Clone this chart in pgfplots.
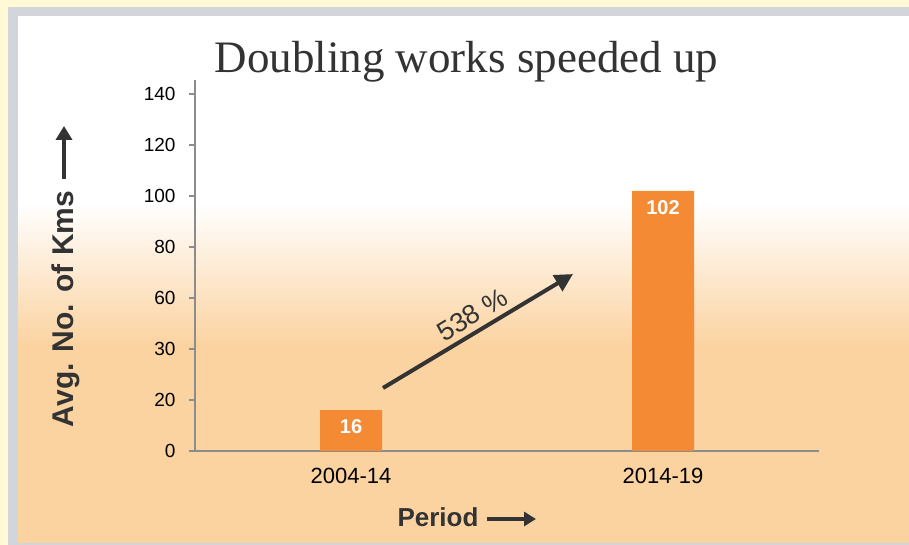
\documentclass[border=0pt]{standalone}
\usepackage{pgfplots}
\pgfplotsset{compat=1.18}
\usepackage{fontspec}
\setmainfont{Liberation Sans}
\newfontfamily\titlefont{Liberation Serif}
\usetikzlibrary{arrows.meta}
\definecolor{outer}{RGB}{255,249,216}
\definecolor{frame}{RGB}{210,214,218}
\definecolor{bgorange}{RGB}{251,211,161}
\definecolor{barorange}{RGB}{245,138,53}
\definecolor{axgray}{RGB}{140,140,140}
\definecolor{txt}{RGB}{51,51,51}
\begin{document}
\begin{tikzpicture}[x=1pt,y=1pt]
\useasboundingbox (0,0) rectangle (909,545);
\fill[outer] (0,0) rectangle (909,545);
\fill[frame] (8,0) rectangle (909,538);
\fill[white] (18,2) rectangle (909,529);
\fill[bgorange] (18,2) rectangle (909,202);
\shade[top color=white, bottom color=bgorange] (18,200) rectangle (909,342);
\begin{axis}[
  at={(195pt,94pt)}, anchor=south west,
  scale only axis, width=624pt, height=371pt,
  xmin=-0.5, xmax=1.5, ymin=0, ymax=145.5,
  axis x line=bottom, axis y line=left,
  axis line style={-, draw=axgray, line width=2pt},
  xtick={0,1}, xticklabels={2004-14,2014-19},
  ytick={0,20,40,60,80,100,120,140},
  yticklabels={0,20,30,60,80,100,120,140},
  tick align=outside,
  major tick length=6pt,
  x tick style={draw=none},
  y tick style={draw=axgray, line width=2pt},
  yticklabel style={font=\fontsize{19}{19}\selectfont, text=black, xshift=-10pt},
  xticklabel style={font=\fontsize{22}{22}\selectfont, text=black, yshift=-8pt},
  ybar, bar width=62pt,
  clip=false,
]
\addplot[fill=barorange, draw=none] coordinates {(0,16) (1,102)};
\node[anchor=north, text=white, font=\bfseries\fontsize{20}{20}\selectfont] at (axis cs:0,16) [yshift=-6pt] {16};
\node[anchor=north, text=white, font=\bfseries\fontsize{20}{20}\selectfont] at (axis cs:1,102) [yshift=-6pt] {102};
\draw[txt, line width=4pt, -{Triangle[width=18pt,length=18pt]}] (axis cs:0.1026,24.7) -- (axis cs:0.7115,69.4);
\node[txt, rotate=31.4, font=\fontsize{27}{27}\selectfont, inner sep=0pt] at (axis cs:0.388,53.5) {538 \%};
\end{axis}
\node[txt, font=\titlefont\fontsize{45}{45}\selectfont, anchor=base] at (466.5,472) {Doubling works speeded up};
\node[txt, rotate=90, font=\bfseries\fontsize{30}{30}\selectfont] at (66,236) {Avg. No. of Kms};
\draw[txt, line width=4pt, -{Triangle[width=16pt,length=14pt]}] (64,366) -- (64,419);
\node[txt, font=\bfseries\fontsize{26}{26}\selectfont, anchor=base west] at (394,18) {Period};
\draw[txt, line width=3.5pt, -{Triangle[width=14pt,length=12pt]}] (487,26) -- (536,26);
\end{tikzpicture}
\end{document}
